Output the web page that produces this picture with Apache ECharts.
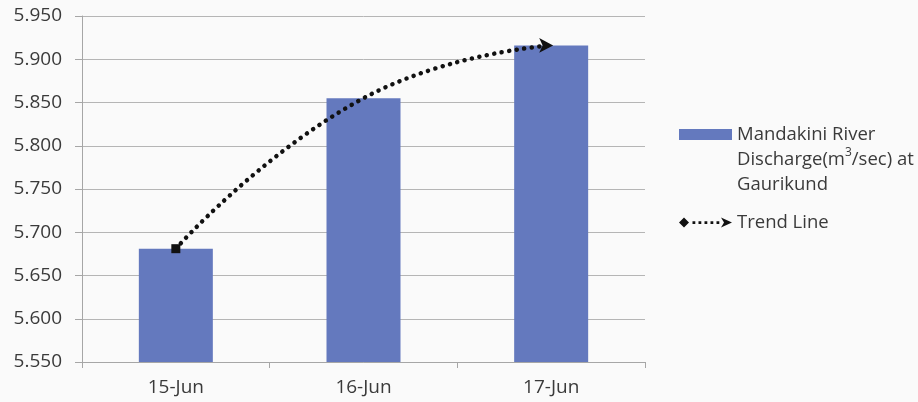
<!DOCTYPE html>
<html>
<head>
<meta charset="utf-8">
<script src="https://cdn.jsdelivr.net/npm/echarts@6/dist/echarts.min.js"></script>
<style>html,body{margin:0;padding:0;background:#fafafa;}#c{width:918px;height:402px;}</style>
</head>
<body>
<div id="c"></div>
<script>
var categories = ['15-Jun', '16-Jun', '17-Jun'];
var discharge = [5.681, 5.855, 5.916];
var trendValues = [5.681, 5.855, 5.916];
var yTicks = { min: 5.55, max: 5.95, step: 0.05 };
var barName = 'Mandakini River Discharge(m3/sec) at Gaurikund';
var trendName = 'Trend Line';

var font = '"Open Sans", sans-serif';
var chart = echarts.init(document.getElementById('c'));
var trendData = trendValues.map(function (v, i) {
  var item = { value: v, symbol: 'none' };
  if (i === 0) { item.symbol = 'rect'; item.symbolSize = 9; }
  if (i === trendValues.length - 1) { item.symbol = 'arrow'; item.symbolSize = [11, 14]; item.symbolRotate = -90; item.symbolOffset = [2, 0]; }
  return item;
});
var trendIcon = 'path://M0 5 L5 0 L10 5 L5 10 Z M13.5 3.7 h2.8 v2.8 h-2.8 Z M19.5 3.7 h2.8 v2.8 h-2.8 Z M25.5 3.7 h2.8 v2.8 h-2.8 Z M31.5 3.7 h2.8 v2.8 h-2.8 Z M37.5 3.7 h2.8 v2.8 h-2.8 Z M42 0 L53 5 L42 10 L45 5 Z';

chart.setOption({
  backgroundColor: '#fafafa',
  animation: false,
  grid: { left: 82, right: 273, top: 16, bottom: 40 },
  legend: [
    {
      orient: 'vertical', left: 679, top: 72, padding: 0,
      itemWidth: 53, itemHeight: 11,
      data: [{ name: barName, icon: 'rect' }],
      formatter: function () { return 'Mandakini River\nDischarge(m{sup|3}/sec) at\nGaurikund'; },
      textStyle: {
        fontFamily: font, fontSize: 18.5, color: '#3a3a3a', lineHeight: 25,
        padding: [50, 0, 0, 0],
        rich: { sup: { fontFamily: font, fontSize: 12, color: '#3a3a3a', verticalAlign: 'top', lineHeight: 25, padding: [0, 0, 6, 0] } }
      }
    },
    {
      orient: 'vertical', left: 679, top: 210, padding: 0,
      itemWidth: 53, itemHeight: 10,
      data: [{ name: trendName, icon: trendIcon, itemStyle: { color: '#111', borderWidth: 0 } }],
      textStyle: { fontFamily: font, fontSize: 18.5, color: '#3a3a3a', lineHeight: 25 }
    }
  ],
  xAxis: {
    type: 'category', data: categories, boundaryGap: true,
    axisLine: { show: true, lineStyle: { color: '#a6a6a6', width: 1 } },
    axisTick: { show: true, length: 6, lineStyle: { color: '#a6a6a6' } },
    axisLabel: { fontFamily: font, fontSize: 19, color: '#3a3a3a', margin: 16 }
  },
  yAxis: {
    type: 'value', min: yTicks.min, max: yTicks.max, interval: yTicks.step,
    axisLine: { show: true, lineStyle: { color: '#a6a6a6', width: 1 } },
    axisTick: { show: true, length: 7, lineStyle: { color: '#a6a6a6' } },
    splitLine: { lineStyle: { color: '#b5b5b5', width: 1 } },
    axisLabel: { fontFamily: font, fontSize: 19, color: '#3a3a3a', margin: 20, formatter: function (v) { return v.toFixed(3); } }
  },
  series: [
    {
      name: barName, type: 'bar', data: discharge, barWidth: 74,
      itemStyle: { color: '#6479be' }
    },
    {
      name: trendName, type: 'line', data: trendData, smooth: 0.5,
      showSymbol: true, z: 5,
      itemStyle: { color: '#111' },
      lineStyle: { color: '#111', width: 4.5, type: [0.1, 7.5], cap: 'round' }
    }
  ]
});
</script>
</body>
</html>
